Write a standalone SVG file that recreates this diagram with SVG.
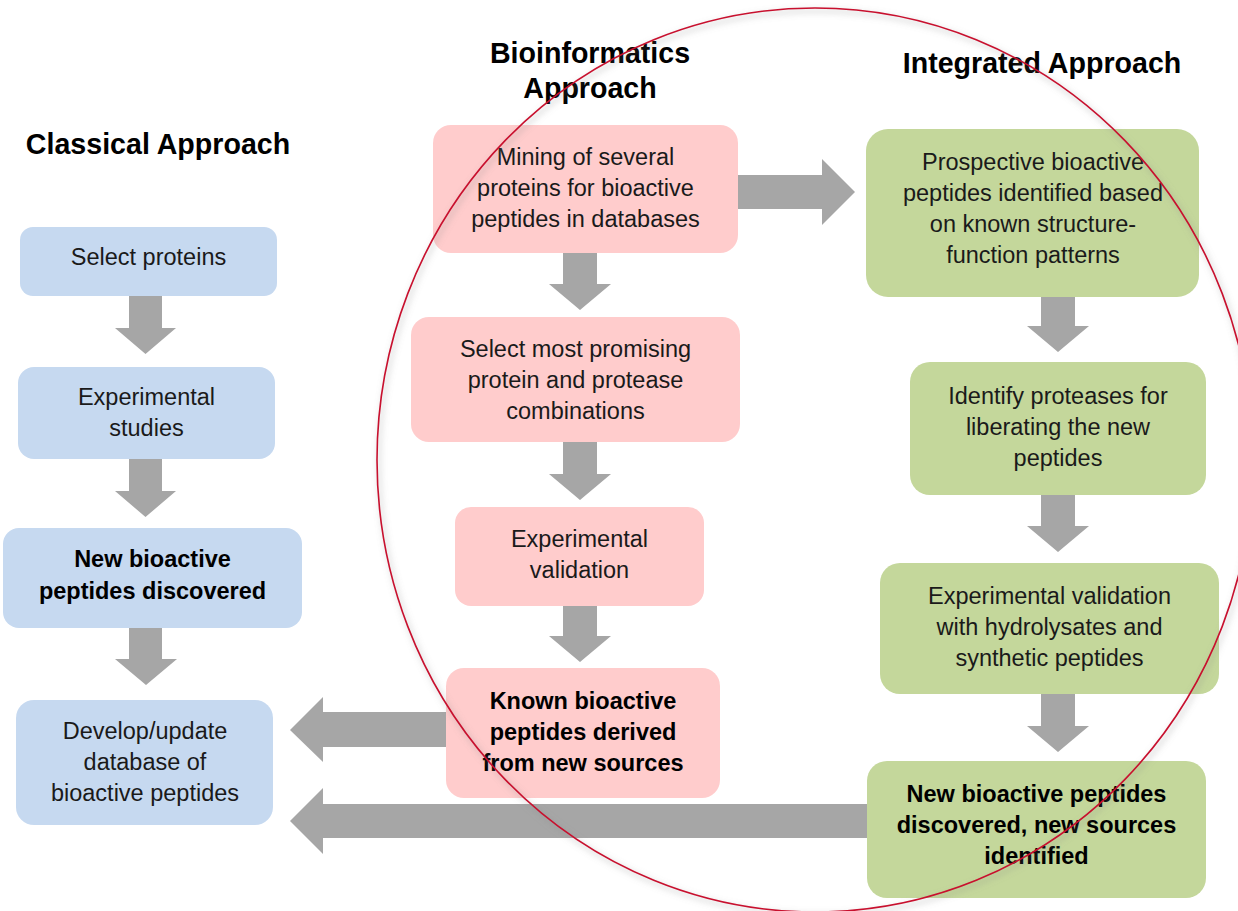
<svg xmlns="http://www.w3.org/2000/svg" width="1238" height="911" viewBox="0 0 1238 911">
<style>
.t{font-family:"Liberation Sans",Arial,sans-serif;font-size:23.5px;fill:#1a1a1a;text-anchor:middle}
.b{font-weight:bold;fill:#000}
.h{font-family:"Liberation Sans",Arial,sans-serif;font-size:28.6px;font-weight:bold;fill:#000;text-anchor:middle}
.blue{fill:#c6d9f0}
.pink{fill:#ffcccc}
.green{fill:#c4d79b}
.arr{fill:#a6a6a6}
</style>
<defs>
<filter id="sh" x="-10%" y="-10%" width="120%" height="120%"><feGaussianBlur stdDeviation="3"/></filter>
</defs>
<rect width="1238" height="911" fill="#fff"/>

<g id="titles">
<text class="h" x="158" y="154">Classical Approach</text>
<text class="h" x="590" y="63">Bioinformatics</text>
<text class="h" x="590" y="98">Approach</text>
<text class="h" x="1042" y="73">Integrated Approach</text>
</g>

<g id="connectors">
<polygon class="arr" points="129,296 162,296 162,328 176,328 145.5,354 115,328 129,328"/>
<polygon class="arr" points="129,459 162,459 162,491 176,491 145.5,517 115,491 129,491"/>
<polygon class="arr" points="129,628 162,628 162,659 177,659 146,685 115,659 129,659"/>
<polygon class="arr" points="563,253 597,253 597,284 611,284 580,310 549,284 563,284"/>
<polygon class="arr" points="563,442 597,442 597,474 611,474 580,500 549,474 563,474"/>
<polygon class="arr" points="563,606 597,606 597,636 611,636 580,662 549,636 563,636"/>
<polygon class="arr" points="1041,297 1075,297 1075,326 1089,326 1058,352 1027,326 1041,326"/>
<polygon class="arr" points="1041,495 1075,495 1075,526 1089,526 1058,552 1027,526 1041,526"/>
<polygon class="arr" points="1041,694 1075,694 1075,726 1089,726 1058,752 1027,726 1041,726"/>
<polygon class="arr" points="738,175 822,175 822,159 855,192 822,225 822,209 738,209"/>
<polygon class="arr" points="446,712 323,712 323,697 290,730 323,762 323,747 446,747"/>
<polygon class="arr" points="867,804 323,804 323,788 290,821 323,854 323,838 867,838"/>
</g>

<g id="n-select-proteins">
<rect class="blue" x="20" y="227" width="257" height="69" rx="13"/>
<text class="t" x="148.5" y="265">Select proteins</text>
</g>
<g id="n-experimental-studies">
<rect class="blue" x="18" y="367" width="257" height="92" rx="16"/>
<text class="t" x="146.5" y="405">Experimental</text>
<text class="t" x="146.5" y="436">studies</text>
</g>
<g id="n-new-bioactive">
<rect class="blue" x="3" y="528" width="299" height="100" rx="16"/>
<text class="t b" x="152.5" y="567">New bioactive</text>
<text class="t b" x="152.5" y="599">peptides discovered</text>
</g>
<g id="n-develop">
<rect class="blue" x="16" y="700" width="257" height="125" rx="18"/>
<text class="t" x="145" y="739">Develop/update</text>
<text class="t" x="145" y="770">database of</text>
<text class="t" x="145" y="801">bioactive peptides</text>
</g>

<g id="n-mining">
<rect class="pink" x="433" y="125" width="305" height="128" rx="18"/>
<text class="t" x="585.5" y="165">Mining of several</text>
<text class="t" x="585.5" y="196">proteins for bioactive</text>
<text class="t" x="585.5" y="227">peptides in databases</text>
</g>
<g id="n-select-promising">
<rect class="pink" x="411" y="317" width="329" height="125" rx="18"/>
<text class="t" x="575.5" y="357">Select most promising</text>
<text class="t" x="575.5" y="388">protein and protease</text>
<text class="t" x="575.5" y="419">combinations</text>
</g>
<g id="n-exp-validation">
<rect class="pink" x="455" y="507" width="249" height="99" rx="16"/>
<text class="t" x="579.5" y="547">Experimental</text>
<text class="t" x="579.5" y="578">validation</text>
</g>
<g id="n-known">
<rect class="pink" x="446" y="668" width="274" height="130" rx="18"/>
<text class="t b" x="583" y="709">Known bioactive</text>
<text class="t b" x="583" y="740">peptides derived</text>
<text class="t b" x="583" y="771">from new sources</text>
</g>

<g id="n-prospective">
<rect class="green" x="866" y="129" width="333" height="168" rx="22"/>
<text class="t" x="1033" y="170">Prospective bioactive</text>
<text class="t" x="1033" y="201">peptides identified based</text>
<text class="t" x="1033" y="232">on known structure-</text>
<text class="t" x="1033" y="263">function patterns</text>
</g>
<g id="n-identify">
<rect class="green" x="910" y="362" width="296" height="133" rx="20"/>
<text class="t" x="1058" y="404">Identify proteases for</text>
<text class="t" x="1058" y="435">liberating the new</text>
<text class="t" x="1058" y="466">peptides</text>
</g>
<g id="n-exp-hydro">
<rect class="green" x="880" y="563" width="339" height="131" rx="20"/>
<text class="t" x="1049.5" y="604">Experimental validation</text>
<text class="t" x="1049.5" y="635">with hydrolysates and</text>
<text class="t" x="1049.5" y="666">synthetic peptides</text>
</g>
<g id="n-new-sources">
<rect class="green" x="867" y="761" width="339" height="137" rx="20"/>
<text class="t b" x="1036.5" y="802">New bioactive peptides</text>
<text class="t b" x="1036.5" y="833">discovered, new sources</text>
<text class="t b" x="1036.5" y="864">identified</text>
</g>

<g id="ellipse">
<ellipse cx="817" cy="463" rx="438" ry="452" fill="none" stroke="#888" stroke-opacity="0.35" stroke-width="3" filter="url(#sh)"/>
<ellipse cx="815" cy="460" rx="438" ry="452" fill="none" stroke="#c8102e" stroke-width="1.6"/>
</g>
</svg>
